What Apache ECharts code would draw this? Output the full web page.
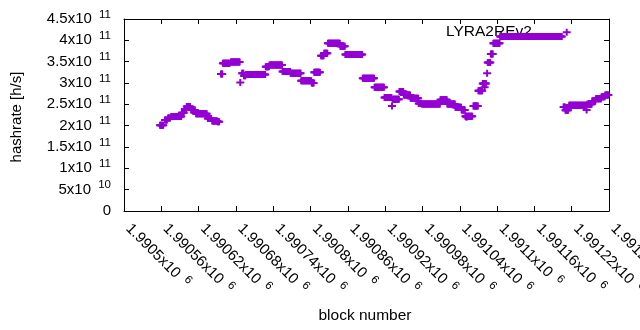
<!DOCTYPE html>
<html><head><meta charset="utf-8">
<script src="https://cdn.jsdelivr.net/npm/echarts@6/dist/echarts.min.js"></script>
<style>html,body{margin:0;padding:0;background:#fff}#c{width:640px;height:330px}</style>
</head><body><div id="c"></div>
<script>
// Runs of consecutive blocks sharing one hashrate value
const runStartBlock = [1990558,1990566,1990571,1990576,1990593,1990598,1990601,1990608,1990616,1990635,1990642,1990651,
  1990656,1990659,1990672,1990687,1990690,1990693,1990696,1990728,1990734,1990755,1990768,1990785,1990802,1990806,
  1990817,1990822,1990828,1990848,1990856,1990884,1990903,1990919,1990931,1990932,1990943,1990950,1990961,1990974,
  1990979,1991009,1991020,1991033,1991043,1991049,1991051,1991062,1991070,1991077,1991080,1991084,1991085,1991090,
  1991094,1991105,1991212,1991207,1991210,1991216,1991244,1991245,1991253,1991259,1991268,1991274];
const runEndBlock = [1990563,1990569,1990574,1990592,1990596,1990600,1990606,1990614,1990633,1990640,1990650,1990653,
  1990658,1990670,1990686,1990687,1990692,1990695,1990727,1990733,1990754,1990767,1990784,1990801,1990805,1990815,
  1990821,1990827,1990847,1990855,1990883,1990902,1990918,1990930,1990931,1990942,1990949,1990960,1990973,1990978,
  1991008,1991019,1991032,1991042,1991048,1991060,1991051,1991069,1991076,1991082,1991080,1991084,1991089,1991093,
  1991104,1991204,1991212,1991209,1991214,1991243,1991244,1991252,1991258,1991267,1991273,1991279];
const runHashrate = [2.01e11,2.13e11,2.18e11,2.215e11,2.30e11,2.39e11,2.45e11,2.37e11,2.28e11,2.17e11,2.11e11,2.09e11,
  3.21e11,3.46e11,3.49e11,3.01e11,3.23e11,3.17e11,3.20e11,3.38e11,3.42e11,3.27e11,3.23e11,3.05e11,3.00e11,3.25e11,
  3.64e11,3.70e11,3.93e11,3.86e11,3.67e11,3.11e11,2.90e11,2.66e11,2.46e11,2.62e11,2.80e11,2.72e11,2.64e11,2.52e11,
  2.51e11,2.61e11,2.51e11,2.43e11,2.37e11,2.22e11,2.20e11,2.46e11,2.82e11,2.99e11,2.90e11,3.23e11,3.48e11,3.68e11,
  3.93e11,4.09e11,4.19e11,2.44e11,2.36e11,2.48e11,2.37e11,2.50e11,2.58e11,2.63e11,2.68e11,2.72e11];

const xMin = 1990500, xMax = 1991280, xStep = 60;
const yMin = 0, yMax = 4.5e11, yStep = 5e10;
const seriesName = 'LYRA2REv2';
const xTitle = 'block number';
const yTitle = 'hashrate [h/s]';

const points = [];
for (let i = 0; i < runStartBlock.length; i++) {
  for (let b = runStartBlock[i]; b <= runEndBlock[i]; b++) points.push([b, runHashrate[i]]);
}

const FONT = 'Liberation Sans, Arial, sans-serif';
const rich = {
  b: {fontSize: 15, fontFamily: FONT, color: '#000'},
  s: {fontSize: 11.5, fontFamily: FONT, color: '#000', padding: [0, 0, 9, 3]}
};
function sci(v) {
  if (v === 0) return '{b|0}';
  const e = Math.floor(Math.log10(v) + 1e-9);
  const m = parseFloat((v / Math.pow(10, e)).toFixed(6));
  return '{b|' + m + 'x10} {s|' + e + '}';
}

const axisLine = {show: true, onZero: false, lineStyle: {color: '#000', width: 1}};
const axisTick = {show: true, inside: true, length: 5, lineStyle: {color: '#000', width: 1}};

const chart = echarts.init(document.getElementById('c'), null, {renderer: 'canvas'});
chart.setOption({
  animation: false,
  backgroundColor: '#fff',
  grid: {left: 124, right: 31, top: 19, bottom: 119, containLabel: false, outerBoundsMode: 'none'},
  xAxis: [
    {type: 'value', position: 'bottom', min: xMin, max: xMax, interval: xStep,
     axisLine, axisTick, splitLine: {show: false},
     axisLabel: {rotate: -45, margin: 11, padding: [0, 0, 0, 6], formatter: sci, rich, fontSize: 15, fontFamily: FONT, color: '#000', showMinLabel: true, showMaxLabel: true, hideOverlap: false}},
    {type: 'value', position: 'top', min: xMin, max: xMax, interval: xStep,
     axisLine, axisTick, splitLine: {show: false}, axisLabel: {show: false}}
  ],
  yAxis: [
    {type: 'value', position: 'left', min: yMin, max: yMax, interval: yStep,
     axisLine, axisTick, splitLine: {show: false},
     axisLabel: {margin: 13, formatter: sci, rich, fontSize: 15, fontFamily: FONT, color: '#000', showMinLabel: true, showMaxLabel: true}},
    {type: 'value', position: 'right', min: yMin, max: yMax, interval: yStep,
     axisLine, axisTick, splitLine: {show: false}, axisLabel: {show: false}}
  ],
  graphic: [
    {type: 'text', x: 446, y: 32, z: 0, style: {text: seriesName, fontSize: 15.5, fontFamily: FONT, fill: '#000', align: 'left', verticalAlign: 'middle'}},
    {type: 'text', x: 365, y: 316, style: {text: xTitle, fontSize: 15.5, fontFamily: FONT, fill: '#000', align: 'center', verticalAlign: 'middle'}},
    {type: 'text', x: 17, y: 117, rotation: Math.PI / 2, style: {text: yTitle, fontSize: 15, fontFamily: FONT, fill: '#000', align: 'center', verticalAlign: 'middle'}}
  ],
  series: [{
    name: seriesName, type: 'scatter', xAxisIndex: 0, yAxisIndex: 0, z: 5,
    symbol: 'path://M0,2.5H3V0H5V2.5H8V4.5H5V7H3V4.5H0Z',
    symbolSize: [8, 7],
    itemStyle: {color: '#9400D3', opacity: 1},
    emphasis: {disabled: true},
    data: points
  }]
});
</script></body></html>
